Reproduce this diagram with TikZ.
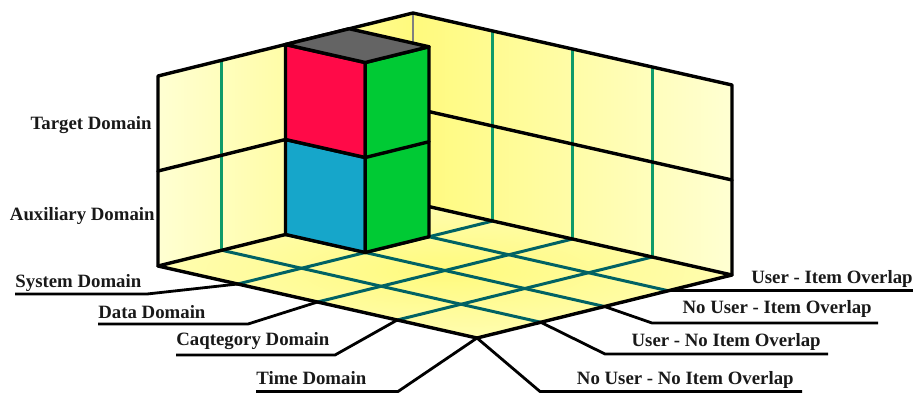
\documentclass[tikz,border=0pt]{standalone}
\usepackage{fontspec}
\setmainfont{Liberation Serif}
\usetikzlibrary{calc}
\definecolor{PaleClr}{RGB}{255,255,210}
\definecolor{WallClr}{RGB}{255,250,125}
\definecolor{GridClr}{RGB}{15,155,105}
\definecolor{FloorGridClr}{RGB}{0,98,100}
\definecolor{TargetClr}{RGB}{255,10,72}
\definecolor{AuxClr}{RGB}{22,166,202}
\definecolor{SideClr}{RGB}{0,202,52}
\definecolor{TopClr}{RGB}{100,100,100}
\tikzset{
  edge/.style={line width=1.7pt,line join=round,line cap=round},
  wallgrid/.style={line width=1.3pt,color=GridClr},
  floorgrid/.style={line width=1.5pt,color=FloorGridClr},
  leader/.style={line width=1.4pt},
  lbl/.style={font=\fontsize{9.4}{11}\selectfont\bfseries,text=black!90,inner sep=0pt}
}

\begin{document}
\begin{tikzpicture}[x=0.5pt,y=-0.5pt]
\useasboundingbox (0,0) rectangle (914,392);

\begin{scope}[shift={(413,203)},x={(39.875pt,-9pt)},y={(-31.875pt,-7.875pt)},z={(0pt,47.5pt)}]
\foreach \a in {0,...,4}{
  \foreach \b in {0,...,4}{\coordinate (F\a\b) at (\a,\b,0);}
  \coordinate (R\a) at (\a,0,2); \coordinate (RM\a) at (\a,0,1);
  \coordinate (L\a) at (0,\a,2); \coordinate (LM\a) at (0,\a,1);
}
\foreach \z in {0,1,2}{
  \coordinate (A\z) at (0,2,\z); \coordinate (B\z) at (1,2,\z);
  \coordinate (D\z) at (1,1,\z); \coordinate (E\z) at (0,1,\z);
}
\end{scope}

% walls and floor
\shade[left color=PaleClr,right color=WallClr] (F04) -- (F00) -- (L0) -- (L4) -- cycle;
\shade[left color=WallClr,right color=PaleClr] (F00) -- (F40) -- (R4) -- (R0) -- cycle;
\shade[inner color=WallClr,outer color=PaleClr!60!WallClr] (F00) -- (F40) -- (F44) -- (F04) -- cycle;

\foreach \i in {1,2,3}{
  \draw[wallgrid] (F\i0) -- (R\i);
  \draw[wallgrid] (F0\i) -- (L\i);
  \draw[floorgrid] (F\i0) -- (F\i4);
  \draw[floorgrid] (F0\i) -- (F4\i);
}

\draw[line width=1pt,gray] (R0) -- (F00);
\draw[edge] (L4) -- (R0) -- (R4) -- (F40) -- (F44) -- (F04) -- cycle;
\draw[edge] (F04) -- (F00) -- (F40);
\draw[edge] (LM4) -- (LM0) -- (RM4);

% cube
\filldraw[edge,fill=AuxClr] (A0) -- (B0) -- (B1) -- (A1) -- cycle;
\filldraw[edge,fill=TargetClr] (A1) -- (B1) -- (B2) -- (A2) -- cycle;
\filldraw[edge,fill=SideClr] (B0) -- (D0) -- (D2) -- (B2) -- cycle;
\draw[edge] (B1) -- (D1);
\filldraw[edge,fill=TopClr] (A2) -- (B2) -- (D2) -- (E2) -- cycle;

% labels
\node[lbl,anchor=base east] (tgt) at (152,129.5) {Target Domain};
\node[lbl,anchor=base east] (aux) at (155,220) {Auxiliary Domain};

\node[lbl,anchor=base west] (sys) at (15,287.5) {System Domain};
\coordinate (sysEnd) at (147,294);
\draw[leader] (sys.base west |- sysEnd) -- (sysEnd) -- (F14);

\node[lbl,anchor=base west] (dat) at (98,318.3) {Data Domain};
\coordinate (datEnd) at (248,324);
\draw[leader] (dat.base west |- datEnd) -- (datEnd) -- (F24);

\node[lbl,anchor=base west] (cat) at (176,345.7) {Caqtegory Domain};
\coordinate (catEnd) at (335,355);
\draw[leader] (cat.base west |- catEnd) -- (catEnd) -- (F34);

\node[lbl,anchor=base west] (tim) at (256,384.3) {Time Domain};
\coordinate (timEnd) at (398,391.5);
\draw[leader] (tim.base west |- timEnd) -- (timEnd) -- (F44);

\node[lbl,anchor=base east] (uio) at (913,283.3) {User - Item Overlap};
\draw[leader] (F41) -- (F41 -| uio.east);

\node[lbl,anchor=base east] (nuio) at (872,313.5) {No User - Item Overlap};
\coordinate (nuioBend) at (652,323);
\coordinate (nuioEnd) at (878,323);
\draw[leader] (F42) -- (nuioBend) -- (nuioEnd);

\node[lbl,anchor=base east] (unio) at (821,346.7) {User - No Item Overlap};
\coordinate (unioBend) at (605,354);
\coordinate (unioEnd) at (828,354);
\draw[leader] (F43) -- (unioBend) -- (unioEnd);

\node[lbl,anchor=base east] (nunio) at (794,384.3) {No User - No Item Overlap};
\coordinate (nunioBend) at (540,391.5);
\coordinate (nunioEnd) at (802,391.5);
\draw[leader] (F44) -- (nunioBend) -- (nunioEnd);
\end{tikzpicture}
\end{document}
